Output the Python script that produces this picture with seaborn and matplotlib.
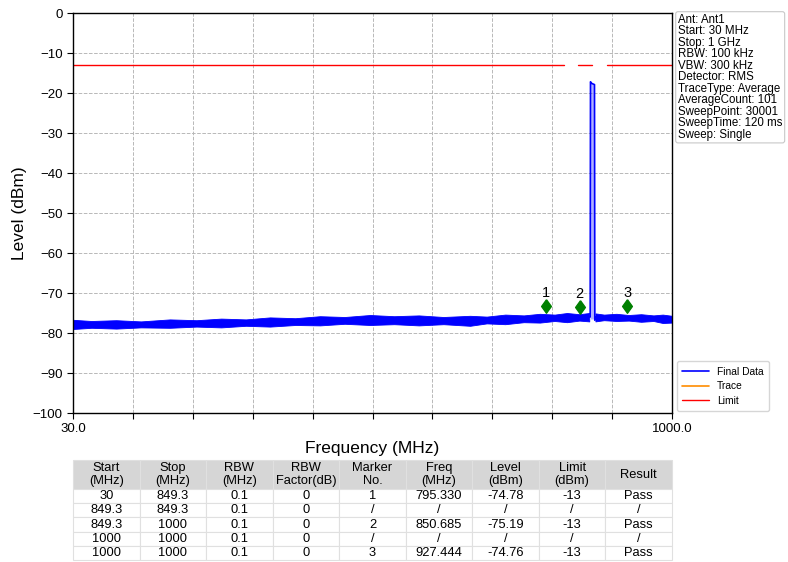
import numpy as np
import pandas as pd
import seaborn as sns
import matplotlib.pyplot as plt

sns.set_style('white')
plt.rcParams['font.family'] = ['Liberation Sans', 'DejaVu Sans']
plt.rcParams['text.color'] = 'black'
plt.rcParams['axes.labelcolor'] = 'black'
plt.rcParams['xtick.color'] = 'black'
plt.rcParams['ytick.color'] = 'black'

# Trace: noise band envelope and centre, plus the carrier peak
band_freq = [30, 60, 100, 140, 187, 230, 270, 310, 349, 390, 430, 470, 511, 550, 590,
             630, 673, 700, 730, 760, 786, 810, 830, 850, 866]
band_low = [-79.0, -78.7, -78.9, -78.6, -78.7, -78.4, -78.6, -78.2, -78.4, -78.0, -78.1, -77.7, -78.0,
            -77.8, -78.1, -77.8, -78.2, -77.6, -77.8, -77.3, -77.4, -77.0, -77.3, -76.9, -77.1]
band_high = [-76.7, -77.0, -76.8, -77.1, -76.6, -76.8, -76.4, -76.6, -76.1, -76.3, -75.8, -76.0, -75.5,
             -75.8, -75.6, -76.0, -75.7, -75.9, -75.4, -75.6, -75.2, -75.4, -75.0, -75.3, -75.0]
band2_freq = [876, 890, 910, 930, 950, 970, 985, 1000]
band2_low = [-77.1, -76.8, -77.0, -76.9, -77.2, -77.0, -77.5, -77.4]
band2_high = [-75.1, -75.4, -75.2, -75.5, -75.3, -75.6, -75.4, -75.7]

trace_freq = [30, 100, 187, 270, 349, 430, 511, 590, 673, 730, 786, 830, 867.5,
              868, 870, 874.5, 875, 876, 900, 940, 970, 1000]
trace_level = [-77.8, -77.8, -77.6, -77.4, -77.2, -76.8, -76.6, -76.8, -76.9, -76.5, -76.1, -76.0, -76.0,
               -17.2, -17.6, -17.9, -76.8, -76.1, -76.1, -76.2, -76.4, -76.6]

peak_freq = [868, 870, 874.5, 875]
peak_level = [-17.2, -17.6, -17.9, -76.5]

limit_segments = [(30, 825), (848, 870.5), (894, 1000)]
limit_level = -13

marker_no = ['1', '2', '3']
marker_freq = [795.330, 850.685, 927.444]
marker_level = [-74.78, -75.19, -74.76]

settings = ['Ant: Ant1', 'Start: 30 MHz', 'Stop: 1 GHz', 'RBW: 100 kHz', 'VBW: 300 kHz',
            'Detector: RMS', 'TraceType: Average', 'AverageCount: 101', 'SweepPoint: 30001',
            'SweepTime: 120 ms', 'Sweep: Single']

col_labels = ['Start\n(MHz)', 'Stop\n(MHz)', 'RBW\n(MHz)', 'RBW\nFactor(dB)', 'Marker\nNo.',
              'Freq\n(MHz)', 'Level\n(dBm)', 'Limit\n(dBm)', 'Result']
start_col = ['30', '849.3', '849.3', '1000', '1000']
stop_col = ['849.3', '849.3', '1000', '1000', '1000']
rbw_col = ['0.1'] * 5
factor_col = ['0'] * 5
mark_col = ['1', '/', '2', '/', '3']
freq_col = ['795.330', '/', '850.685', '/', '927.444']
level_col = ['-74.78', '/', '-75.19', '/', '-74.76']
limit_col = ['-13', '/', '-13', '/', '-13']
result_col = ['Pass', '/', 'Pass', '/', 'Pass']

fig = plt.figure(figsize=(7.88, 5.62), dpi=100)
ax = fig.add_axes([73 / 788, 1 - 413 / 562, 599 / 788, 400 / 562])

df = pd.DataFrame({'freq': trace_freq, 'level': trace_level})
ax.fill_between(band_freq, band_low, band_high, color='blue', lw=0.6, edgecolor='blue')
ax.fill_between(band2_freq, band2_low, band2_high, color='blue', lw=0.6, edgecolor='blue')
ax.fill_between(peak_freq, -76.5, peak_level, color='blue', alpha=0.3, lw=0)
sns.lineplot(data=df, x='freq', y='level', ax=ax, color='blue', lw=1.2, label='Final Data',
             sort=False, estimator=None)
ax.plot([], [], color='darkorange', lw=1.2, label='Trace')
for i, (a, b) in enumerate(limit_segments):
    ax.plot([a, b], [limit_level, limit_level], color='red', lw=1,
            label='Limit' if i == 0 else None)

# diamond a bit narrower than tall, like the reference
diamond = [(0, 1), (0.72, 0), (0, -1), (-0.72, 0), (0, 1)]
mk_y = [v + 1.6 for v in marker_level]
ax.scatter(marker_freq, mk_y, marker=diamond, s=95, color='green', zorder=5)
for n, f, y in zip(marker_no, marker_freq, mk_y):
    ax.text(f, y + 1.5, n, ha='center', va='bottom', fontsize=10.5)

ax.set_xlim(30, 1000)
ax.set_ylim(-100, 0)
xt = np.linspace(30, 1000, 11)
ax.set_xticks(xt)
ax.set_xticklabels(['30.0'] + [''] * 9 + ['1000.0'], fontsize=9.5)
ax.set_yticks(np.arange(-100, 1, 10))
ax.tick_params(axis='y', labelsize=9.5)
ax.tick_params(direction='out', length=4, width=0.8, bottom=True, left=True)
ax.grid(True, ls='--', color='#b8b8b8', lw=0.7)
for s in ax.spines.values():
    s.set_color('black')
    s.set_linewidth(1)
ax.set_xlabel('Frequency (MHz)', fontsize=12.5, labelpad=4)
ax.set_ylabel('Level (dBm)', fontsize=12.5)

fig.text(678 / 788, 1 - 14 / 562, '\n'.join(settings), fontsize=8.3, va='top', ha='left',
         linespacing=0.94,
         bbox=dict(boxstyle='round,pad=0.2', fc='white', ec='#c8c8c8', lw=0.8))

ax.legend(loc='lower left', bbox_to_anchor=(1.005, 0.0), fontsize=7.4, frameon=True,
          handlelength=2.6, borderaxespad=0.2, labelspacing=0.45, edgecolor='#cccccc',
          fancybox=True, borderpad=0.5)

cells = list(zip(start_col, stop_col, rbw_col, factor_col, mark_col,
                 freq_col, level_col, limit_col, result_col))
tax = fig.add_axes([73 / 788, 1 - 560 / 562, 599 / 788, 100 / 562])
tax.axis('off')
tb = tax.table(cellText=cells, colLabels=col_labels, cellLoc='center',
               loc='upper left', bbox=[0, 0, 1, 1])
tb.auto_set_font_size(False)
tb.set_fontsize(9.3)
for (r, c), cell in tb.get_celld().items():
    cell.set_edgecolor('#e0e0e0')
    cell.set_linewidth(0.8)
    cell.PAD = 0.02
    cell.get_text().set_color('black')
    if r == 0:
        cell.set_facecolor('#d6d6d6')
        cell.set_height(0.29)
    else:
        cell.set_height(0.142)

fig.savefig('out.png', dpi=100)
